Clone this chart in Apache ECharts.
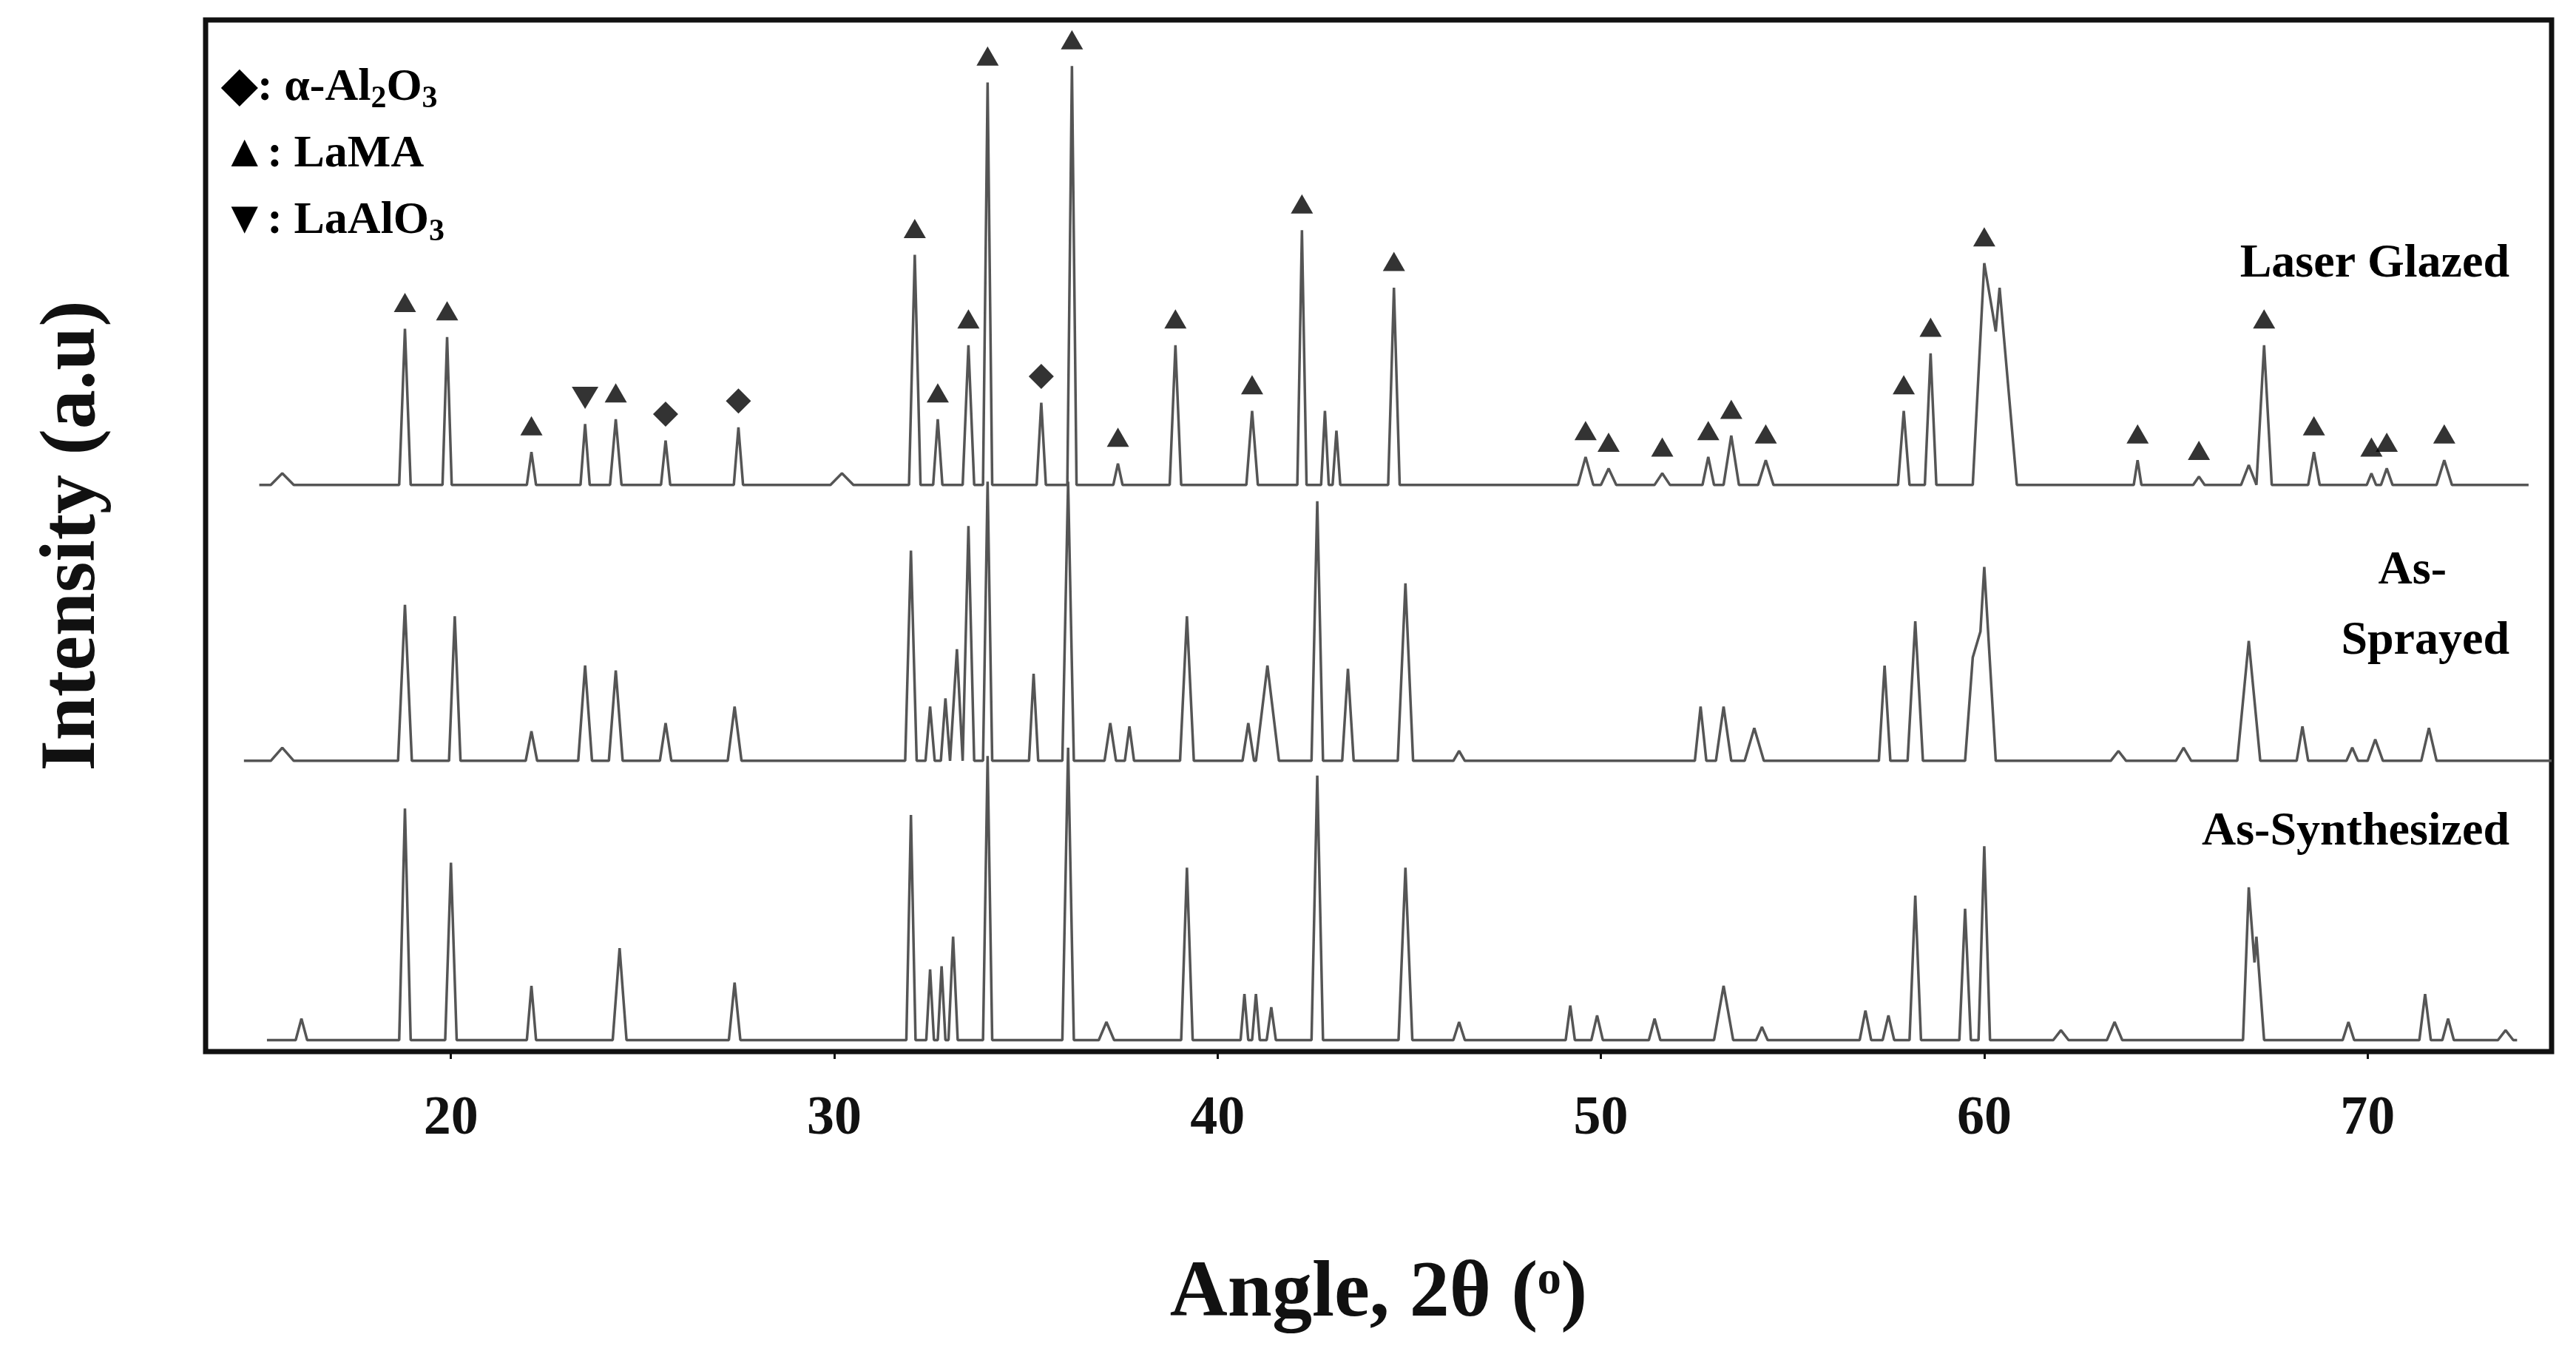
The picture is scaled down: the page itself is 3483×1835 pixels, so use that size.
<!DOCTYPE html>
<html>
	<head>
		<meta charset="UTF-8">
		<title>XRD</title>
		<script src="https://cdn.jsdelivr.net/npm/echarts@6/dist/echarts.min.js"></script>
		<style>html,body{margin:0;padding:0;background:#fff;}</style>
	</head>
	<body>
		<div id="main" style="width:3483px;height:1835px;"></div>
		<script type="text/javascript">
		// peaks: [angle, height above baseline, half width]
		var glazedBase = 345;
		var glazedPeaks = [[15.6,7,0.3],[18.8,95,0.15],[19.9,90,0.12],[22.1,20,0.12],[23.5,37,0.12],[24.3,40,0.15],
			[25.6,27,0.12],[27.5,35,0.12],[30.2,7,0.3],[32.1,140,0.15],[32.7,40,0.12],[33.5,85,0.15],[34.0,245,0.12],
			[35.4,50,0.12],[36.2,255,0.12],[37.4,13,0.12],[38.9,85,0.15],[40.9,45,0.15],[42.2,155,0.12],[42.8,45,0.1],
			[43.1,33,0.1],[44.6,120,0.15],[49.6,17,0.2],[50.2,10,0.2],[51.6,7,0.2],[52.8,17,0.15],[53.4,30,0.2],
			[54.3,15,0.2],[57.9,45,0.15],[58.6,80,0.15],[60.0,135,0.3],[60.4,120,0.45],[64.0,15,0.1],[65.6,5,0.15],
			[66.9,12,0.2],[67.3,85,0.2],[68.6,20,0.15],[70.1,7,0.12],[70.5,10,0.15],[72.0,15,0.2]];
		var sprayedBase = 177;
		var sprayedPeaks = [[15.6,8,0.3],[18.8,95,0.18],[20.1,88,0.15],[22.1,18,0.15],[23.5,58,0.18],[24.3,55,0.18],
			[25.6,23,0.15],[27.4,33,0.18],[32.0,128,0.15],[32.5,33,0.12],[32.9,38,0.12],[33.2,68,0.15],[33.5,143,0.15],
			[34.0,170,0.12],[35.2,53,0.12],[36.1,170,0.15],[37.2,23,0.15],[37.7,21,0.12],[39.2,88,0.18],[40.8,23,0.15],
			[41.3,58,0.3],[42.6,158,0.15],[43.4,56,0.15],[44.9,108,0.2],[46.3,6,0.15],[52.6,33,0.15],[53.2,33,0.2],
			[54.0,20,0.25],[57.4,58,0.15],[58.2,85,0.2],[59.7,63,0.2],[60.0,118,0.3],[63.5,6,0.2],[65.2,8,0.2],
			[66.9,73,0.3],[68.3,21,0.15],[69.6,8,0.15],[70.2,13,0.2],[71.6,20,0.2]];
		var synthBase = 7;
		var synthPeaks = [[16.1,13,0.15],[18.8,141,0.15],[20.0,108,0.15],[22.1,33,0.12],[24.4,56,0.18],[27.4,35,0.15],
			[32.0,137,0.12],[32.5,43,0.1],[32.8,45,0.1],[33.1,63,0.12],[34.0,173,0.12],[36.1,178,0.15],[37.1,11,0.2],
			[39.2,105,0.15],[40.7,28,0.1],[41.0,28,0.1],[41.4,20,0.12],[42.6,161,0.15],[44.9,105,0.18],[46.3,11,0.15],
			[49.2,21,0.12],[49.9,15,0.15],[51.4,13,0.15],[53.2,33,0.25],[54.2,8,0.15],[56.9,18,0.15],[57.5,15,0.15],
			[58.2,88,0.15],[59.5,80,0.15],[60.0,118,0.15],[62.0,6,0.2],[63.4,11,0.2],[66.9,93,0.15],[67.1,63,0.2],
			[69.5,11,0.15],[71.5,28,0.15],[72.1,13,0.15],[73.6,6,0.2]];
		var glazedRange = [15.0, 74.2];
		var sprayedRange = [14.6, 74.8];
		var synthRange = [15.2, 73.9];

		// phase markers on the laser glazed pattern
		var lamaAngles = [18.8,19.9,22.1,24.3,32.1,32.7,33.5,34.0,36.2,37.4,38.9,40.9,42.2,44.6,49.6,50.2,51.6,52.8,53.4,54.3,57.9,58.6,60.0,64.0,65.6,67.3,68.6,70.1,70.5,72.0];
		var aluminaAngles = [25.6,27.5,35.4];
		var laalo3Angles = [23.5];

		var xTicks = [20,30,40,50,60,70];
		var labelFont = 'Liberation Serif';

		function trace(peaks, base, range) {
			var xs = [range[0], range[1]];
			peaks.forEach(function (p) { xs.push(p[0] - p[2], p[0], p[0] + p[2]); });
			xs.sort(function (a, b) { return a - b; });
			return xs.map(function (x) {
				var h = 0;
				peaks.forEach(function (p) {
					var d = Math.abs(x - p[0]);
					if (d < p[2]) h = Math.max(h, p[1] * (1 - d / p[2]));
				});
				return [x, base + h];
			});
		}
		function markerPts(angles) {
			return angles.map(function (a) {
				var p = glazedPeaks.filter(function (q) { return q[0] === a; })[0];
				return [a, glazedBase + p[1] + 16];
			});
		}

		var lineStyle = { color: '#555', width: 3.5 };
		var legendRich = { s: { fontSize: 42, fontWeight: 'bold', fontFamily: labelFont, padding: [30, 0, 0, 0] } };
		var myChart = echarts.init(document.getElementById('main'));
		var option = {
			animation: false,
			grid: { left: 278, right: 33, top: 27, bottom: 413, show: true, borderColor: '#111', borderWidth: 7 },
			xAxis: {
				type: 'value', min: 13.6, max: 74.8,
				name: 'Angle, 2θ (ᵒ)', nameLocation: 'middle', nameGap: 275,
				nameTextStyle: { fontFamily: labelFont, fontWeight: 'bold', fontSize: 108, color: '#111' },
				axisLine: { show: false },
				axisTick: { show: true, length: 10, lineStyle: { color: '#111', width: 3 },
					customValues: xTicks },
				axisLabel: { customValues: xTicks, fontFamily: labelFont, fontWeight: 'bold', fontSize: 74, color: '#111', margin: 55 },
				splitLine: { show: false }
			},
			yAxis: {
				type: 'value', min: 0, max: 628,
				name: 'Intensity (a.u)', nameLocation: 'middle', nameGap: 125,
				nameTextStyle: { fontFamily: labelFont, fontWeight: 'bold', fontSize: 106, color: '#111' },
				axisLine: { show: false }, axisTick: { show: false }, axisLabel: { show: false }, splitLine: { show: false }
			},
			series: [
				{ type: 'line', data: trace(glazedPeaks, glazedBase, glazedRange), symbol: 'none', lineStyle: lineStyle },
				{ type: 'line', data: trace(sprayedPeaks, sprayedBase, sprayedRange), symbol: 'none', lineStyle: lineStyle },
				{ type: 'line', data: trace(synthPeaks, synthBase, synthRange), symbol: 'none', lineStyle: lineStyle },
				{ type: 'scatter', data: markerPts(lamaAngles), symbol: 'triangle', symbolSize: [30, 26], itemStyle: { color: '#000' } },
				{ type: 'scatter', data: markerPts(aluminaAngles), symbol: 'diamond', symbolSize: [34, 34], itemStyle: { color: '#000' } },
				{ type: 'scatter', data: markerPts(laalo3Angles), symbol: 'triangle', symbolRotate: 180, symbolSize: [36, 30], itemStyle: { color: '#000' } }
			],
			graphic: [
				{ type: 'text', left: 300, top: 88, style: { text: '◆: α-Al{s|2}O{s|3}', font: 'bold 62px "Liberation Serif"', fill: '#000', rich: legendRich } },
				{ type: 'text', left: 300, top: 178, style: { text: '▲: LaMA', font: 'bold 62px "Liberation Serif"', fill: '#000' } },
				{ type: 'text', left: 300, top: 268, style: { text: '▼: LaAlO{s|3}', font: 'bold 62px "Liberation Serif"', fill: '#000', rich: legendRich } },
				{ type: 'text', right: 90, top: 325, style: { text: 'Laser Glazed', font: 'bold 64px "Liberation Serif"', fill: '#000' } },
				{ type: 'text', right: 175, top: 740, style: { text: 'As-', font: 'bold 64px "Liberation Serif"', fill: '#000' } },
				{ type: 'text', right: 90, top: 835, style: { text: 'Sprayed', font: 'bold 64px "Liberation Serif"', fill: '#000' } },
				{ type: 'text', right: 90, top: 1093, style: { text: 'As-Synthesized', font: 'bold 64px "Liberation Serif"', fill: '#000' } }
			]
		};
		myChart.setOption(option);
		</script>
	</body>
</html>
